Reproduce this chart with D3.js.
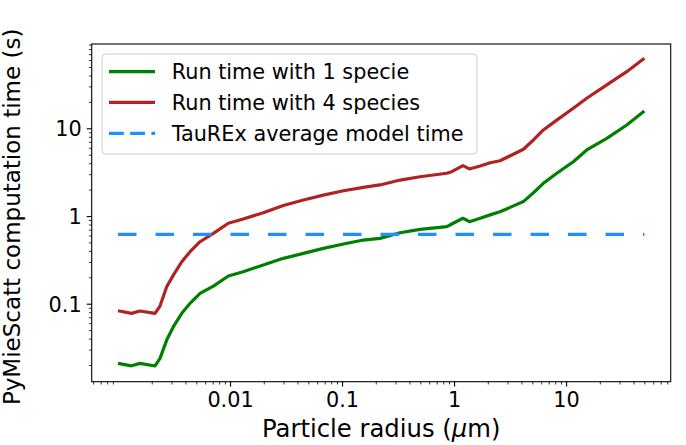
<!DOCTYPE html>
<html>
<head>
<meta charset="utf-8">
<script src="https://cdn.jsdelivr.net/npm/d3@7"></script>
<style>
  html, body { margin: 0; padding: 0; background: #fff; }
  svg { display: block; font-family: "DejaVu Sans", sans-serif; }
</style>
</head>
<body>
<svg id="chart" width="686" height="445"></svg>
<script>
// ---- data ----
const radius = [0.001, 0.00132, 0.00157, 0.00214, 0.00237, 0.00272, 0.00312, 0.00371, 0.0044, 0.0054,
  0.0071, 0.00966, 0.0131, 0.0198, 0.0299, 0.0452, 0.0681, 0.103, 0.155, 0.218,
  0.33, 0.497, 0.861, 0.953, 1.2, 1.37, 1.71, 2.1, 2.57, 3.28,
  4.16, 5.11, 6.27, 8.26, 11.6, 15.3, 23.1, 34.8, 50];
const time1 = [0.0209, 0.0196, 0.0209, 0.0195, 0.0238, 0.0385, 0.0547, 0.0777, 0.101, 0.131,
  0.159, 0.207, 0.232, 0.276, 0.329, 0.375, 0.428, 0.48, 0.532, 0.556,
  0.645, 0.705, 0.755, 0.811, 0.942, 0.861, 0.942, 1.03, 1.12, 1.28,
  1.46, 1.84, 2.36, 3.07, 4.16, 5.66, 7.69, 10.9, 15.7];
const time4 = [0.0832, 0.0777, 0.0826, 0.0777, 0.094, 0.156, 0.212, 0.301, 0.392, 0.509,
  0.635, 0.826, 0.924, 1.09, 1.32, 1.52, 1.73, 1.94, 2.12, 2.26,
  2.57, 2.80, 3.07, 3.20, 3.75, 3.44, 3.72, 4.05, 4.27, 4.96,
  5.77, 7.36, 9.57, 12.4, 16.9, 22.0, 31.2, 44.2, 62.8];
const taurexTime = 0.618;
const xTickValues = [0.01, 0.1, 1, 10];
const xTickLabels = ["0.01", "0.1", "1", "10"];
const yTickValues = [0.1, 1, 10];
const yTickLabels = ["0.1", "1", "10"];
const seriesNames = ["Run time with 1 specie", "Run time with 4 species", "TauREx average model time"];

// ---- layout ----
const L = 91.7, R = 670.7, T = 44, B = 381.7;
const svg = d3.select("#chart");

const x = d3.scaleLog().domain([Math.pow(10, -3.235), Math.pow(10, 1.934)]).range([L, R]);
const y = d3.scaleLog().domain([Math.pow(10, -1.889), Math.pow(10, 1.961)]).range([B, T]);

const tickFont = 20.8, labelFont = 23.0, legendFont = 20.8;

// minor ticks
function minors(lo, hi, majors) {
  const out = [];
  for (let e = Math.floor(Math.log10(lo)) - 1; e <= Math.ceil(Math.log10(hi)); e++) {
    for (let m = 2; m <= 9; m++) {
      const v = m * Math.pow(10, e);
      if (v >= lo && v <= hi && !majors.some(t => Math.abs(t - v) / v < 1e-9)) out.push(v);
    }
  }
  return out;
}

// x axis
const xAxis = d3.axisBottom(x).tickValues(xTickValues).tickFormat((d, i) => xTickLabels[i])
  .tickSize(4.9).tickPadding(4);
const gx = svg.append("g").attr("transform", `translate(0,${B})`).call(xAxis);
gx.select(".domain").remove();
gx.selectAll(".tick line").attr("stroke", "#000").attr("stroke-width", 1.1);
gx.selectAll(".tick text").attr("font-size", tickFont).attr("font-family", "DejaVu Sans")
  .attr("fill", "#000").attr("dy", null).attr("y", 407.5 - B);

const xMin = minors(x.domain()[0], x.domain()[1], xTickValues);
const gxm = svg.append("g").attr("transform", `translate(0,${B})`)
  .call(d3.axisBottom(x).tickValues(xMin).tickFormat("").tickSize(2.8));
gxm.select(".domain").remove();
gxm.selectAll(".tick line").attr("stroke", "#000").attr("stroke-width", 0.8);

// y axis
const yAxis = d3.axisLeft(y).tickValues(yTickValues).tickFormat((d, i) => yTickLabels[i])
  .tickSize(4.9).tickPadding(4.9);
const gy = svg.append("g").attr("transform", `translate(${L},0)`).call(yAxis);
gy.select(".domain").remove();
gy.selectAll(".tick line").attr("stroke", "#000").attr("stroke-width", 1.1);
gy.selectAll(".tick text").attr("font-size", tickFont).attr("font-family", "DejaVu Sans")
  .attr("fill", "#000").attr("dy", "0.36em").attr("x", 81.7 - L);

const yMin = minors(y.domain()[0], y.domain()[1], yTickValues);
const gym = svg.append("g").attr("transform", `translate(${L},0)`)
  .call(d3.axisLeft(y).tickValues(yMin).tickFormat("").tickSize(2.8));
gym.select(".domain").remove();
gym.selectAll(".tick line").attr("stroke", "#000").attr("stroke-width", 0.8);

// lines
svg.append("clipPath").attr("id", "clip").append("rect")
  .attr("x", L).attr("y", T).attr("width", R - L).attr("height", B - T);
const plot = svg.append("g").attr("clip-path", "url(#clip)");

const line = d3.line().x(d => x(d[0])).y(d => y(d[1]));
plot.append("path").datum(radius.map((r, i) => [r, time1[i]]))
  .attr("d", line).attr("fill", "none").attr("stroke", "#008000").attr("stroke-width", 3.2)
  .attr("stroke-linejoin", "round");
plot.append("path").datum(radius.map((r, i) => [r, time4[i]]))
  .attr("d", line).attr("fill", "none").attr("stroke", "#b22222").attr("stroke-width", 3.2)
  .attr("stroke-linejoin", "round");
plot.append("path").datum([[radius[0], taurexTime], [radius[radius.length - 1], taurexTime]])
  .attr("d", line).attr("fill", "none").attr("stroke", "#1e90ff").attr("stroke-width", 3.2)
  .attr("stroke-dasharray", "18.5,19");

// frame
svg.append("rect").attr("x", L).attr("y", T).attr("width", R - L).attr("height", B - T)
  .attr("fill", "none").attr("stroke", "#000").attr("stroke-width", 1.1);

// axis labels
const xl = svg.append("text").attr("x", (L + R) / 2).attr("y", 437.3).attr("text-anchor", "middle")
  .attr("font-size", 24.3).attr("fill", "#000");
xl.append("tspan").text("Particle radius (");
xl.append("tspan").attr("font-style", "italic").text("μ");
xl.append("tspan").text("m)");
svg.append("text").attr("transform", `translate(19.5,${(T + B) / 2 + 4}) rotate(-90)`)
  .attr("text-anchor", "middle").attr("font-size", labelFont).attr("fill", "#000")
  .text("PyMieScatt computation time (s)");

// legend
const lg = svg.append("g");
lg.append("rect").attr("x", 102).attr("y", 54).attr("width", 375).attr("height", 100)
  .attr("rx", 4).attr("fill", "#fff").attr("fill-opacity", 0.8)
  .attr("stroke", "#cccccc").attr("stroke-width", 1);
const colors = ["#008000", "#b22222", "#1e90ff"];
const rowY = [71.7, 102.3, 133.3];
seriesNames.forEach((name, i) => {
  const ln = lg.append("line").attr("x1", 109).attr("x2", 155).attr("y1", rowY[i]).attr("y2", rowY[i])
    .attr("stroke", colors[i]).attr("stroke-width", 3.2);
  if (i === 2) ln.attr("stroke-dasharray", "14.8,6.4");
  lg.append("text").attr("x", 171.7).attr("y", rowY[i]).attr("dy", "0.36em")
    .attr("font-size", legendFont).attr("fill", "#000").text(name);
});
</script>
</body>
</html>
